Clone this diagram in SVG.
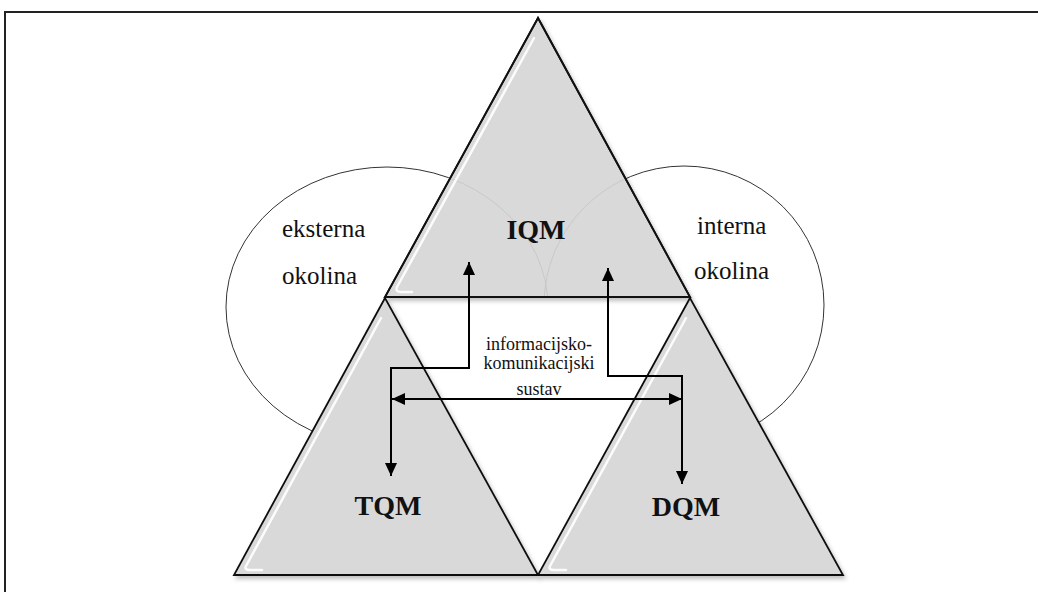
<svg xmlns="http://www.w3.org/2000/svg" width="1038" height="592" viewBox="0 0 1038 592">
<style>
.tri{fill:#d9d9d9;stroke:#111;stroke-width:1.8;stroke-linejoin:miter}
.hl{fill:none;stroke:#fff;stroke-width:2.5;stroke-opacity:0.9;stroke-linecap:round}
.ell{fill:#fff;stroke:#333;stroke-width:1}
.faint{fill:none;stroke:#c8c8c8;stroke-width:1}
.con{fill:none;stroke:#000;stroke-width:2;marker-start:url(#ah);marker-end:url(#ah)}
.big{font-family:"Liberation Serif",serif;font-weight:bold;font-size:28px;fill:#111;text-anchor:middle}
.env{font-family:"Liberation Serif",serif;font-size:25px;fill:#111}
.sys{font-family:"Liberation Serif",serif;font-size:18px;fill:#111;text-anchor:middle}
</style>
<defs>
<marker id="ah" markerUnits="userSpaceOnUse" markerWidth="13" markerHeight="12" refX="13" refY="6" orient="auto-start-reverse">
<path d="M0,0 L13,6 L0,12 z" fill="#000"/>
</marker>
<filter id="sh" x="-10%" y="-10%" width="120%" height="120%">
<feDropShadow dx="2" dy="3" stdDeviation="2" flood-color="#000" flood-opacity="0.25"/>
</filter>
<clipPath id="topclip"><polygon points="538,18 385,297 690,297"/></clipPath>
</defs>
<rect width="1038" height="592" fill="#fff"/>
<g id="border" fill="none" stroke="#222" stroke-width="2">
<path d="M5,592 V12 H1038"/>
</g>
<g id="ekst-okolina">
<ellipse class="ell" cx="387" cy="307" rx="161" ry="140"/>
</g>
<g id="int-okolina">
<ellipse class="ell" cx="684" cy="305" rx="140" ry="139"/>
</g>
<polygon points="385,297 690,297 538,575" fill="#fff"/>
<g id="IQM">
<polygon class="tri" points="538,18 385,297 690,297" filter="url(#sh)"/>
<g clip-path="url(#topclip)">
<ellipse class="faint" cx="387" cy="307" rx="161" ry="140"/>
<ellipse class="faint" cx="684" cy="305" rx="140" ry="139"/>
</g>
<path class="hl" d="M534,38 L397,287 Q395,292 401,292 L412,292"/>
<polygon points="538,18 385,297 690,297" fill="none" stroke="#111" stroke-width="1.8"/>
<text class="big" x="536" y="239">IQM</text>
</g>
<g id="TQM">
<polygon class="tri" points="385,298 234,575 538,575" filter="url(#sh)"/>
<path class="hl" d="M381,318 L246,566 Q244,570 250,570 L262,570"/>
<text class="big" x="388" y="515">TQM</text>
</g>
<g id="DQM">
<polygon class="tri" points="690,298 538,575 843,575" filter="url(#sh)"/>
<path class="hl" d="M686,318 L550,566 Q548,570 554,570 L566,570"/>
<text class="big" x="686" y="516">DQM</text>
</g>
<g id="connectors">
<path class="con" d="M469,262 V368 H391 V476"/>
<path class="con" d="M608,268 V376 H682 V484"/>
<path class="con" d="M392,399 H682"/>
</g>
<g id="labels">
<text class="env" x="282" y="237">eksterna</text>
<text class="env" x="282" y="284">okolina</text>
<text class="env" x="697" y="234">interna</text>
<text class="env" x="694" y="279">okolina</text>
<text class="sys" x="539" y="350">informacijsko-</text>
<text class="sys" x="539" y="369">komunikacijski</text>
<text class="sys" x="539" y="395">sustav</text>
</g>
</svg>
